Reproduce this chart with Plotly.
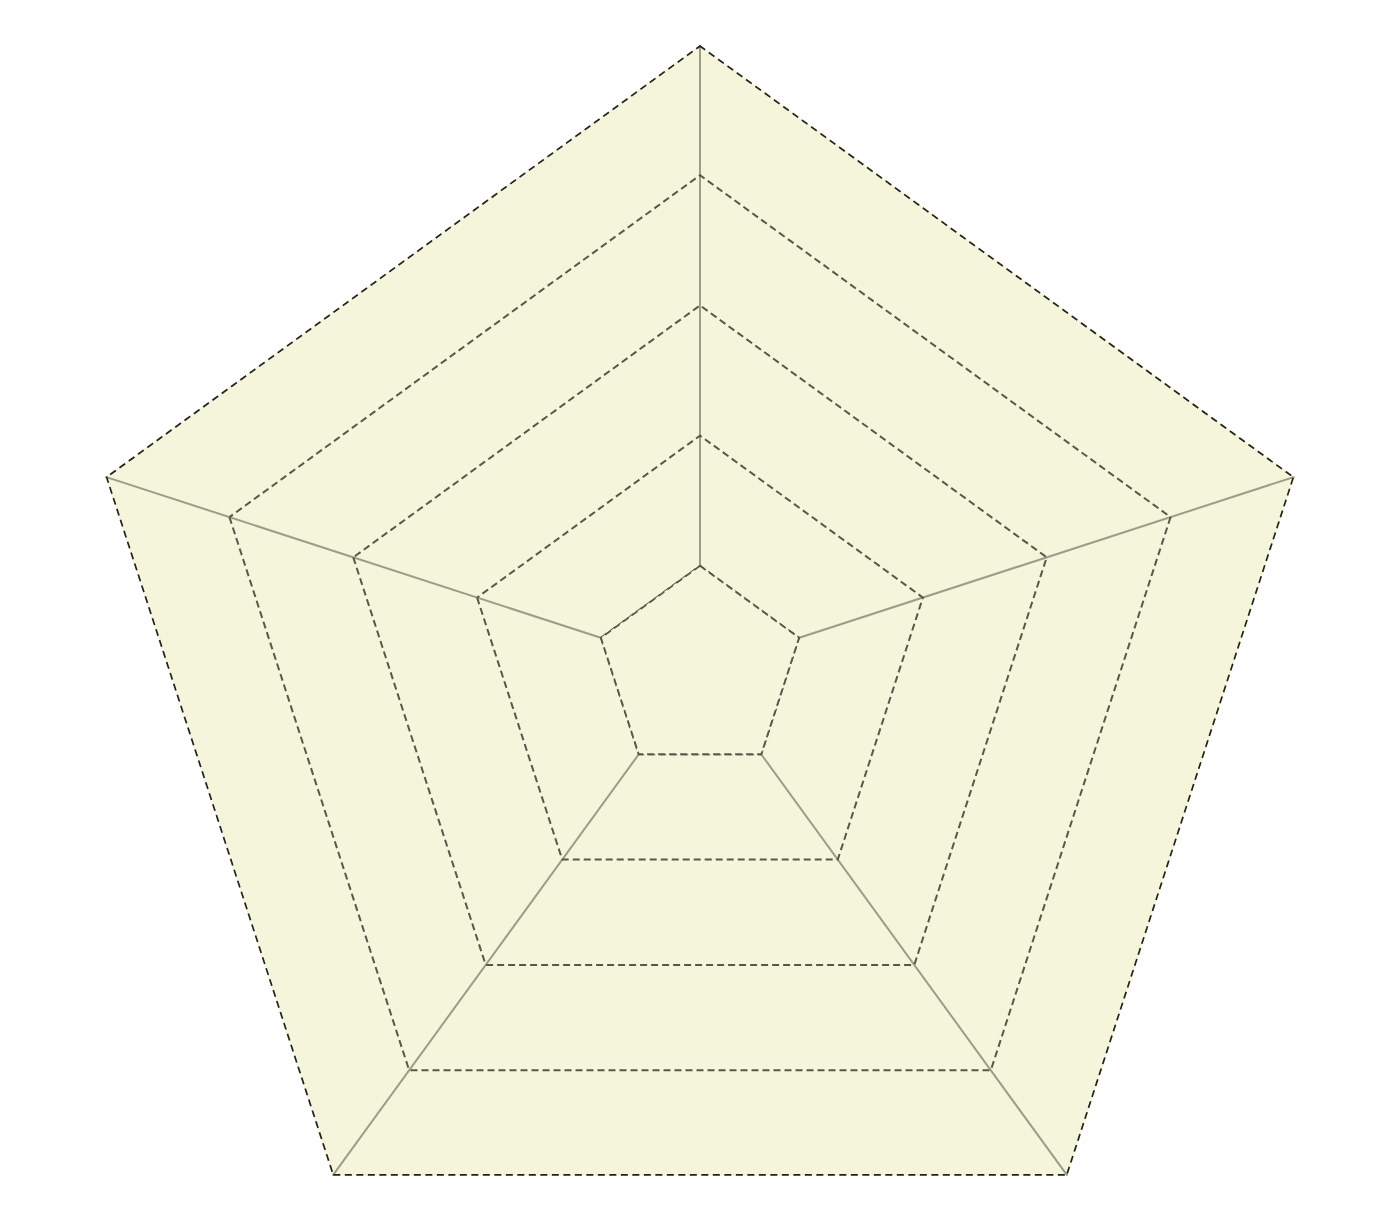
import plotly.graph_objects as go

categories = ["A", "B", "C", "D", "E"]
radial_ticks = [0, 1, 2, 3, 4]
inner_ring = [0, 0, 0, 0, 0]
outer_ring = [4, 4, 4, 4, 4]

BG = "#f5f5dc"
GRID = "#58584a"
DASH = "7px,4px"

fig = go.Figure()
# beige mask over the centre so the spokes start at the innermost ring
fig.add_trace(go.Scatterpolar(
    r=inner_ring + inner_ring[:1], theta=categories + categories[:1],
    mode="lines", fill="toself", fillcolor=BG,
    line=dict(width=1.8, color=GRID, dash=DASH),
    showlegend=False, hoverinfo="skip",
))
# dark dashed outer boundary (outer half is clipped by the polar frame)
fig.add_trace(go.Scatterpolar(
    r=outer_ring + outer_ring[:1], theta=categories + categories[:1],
    mode="lines", line=dict(width=3.4, color="#22221c", dash="7px,4.5px"),
    cliponaxis=False, showlegend=False, hoverinfo="skip",
))

R = 625
cx, cy = 700, 670
W = 2 * (cx - 8)
fig.update_layout(
    width=W, height=(cy - 8) + R,
    margin=dict(l=W / 2 - R, r=W / 2 - R, t=(cy - 8) - R, b=0),
    paper_bgcolor="white",
    showlegend=False,
    polar=dict(
        bgcolor=BG,
        hole=0,
        gridshape="linear",
        radialaxis=dict(
            range=[-0.8, 4], tickvals=radial_ticks, showticklabels=False,
            ticks="", showline=False, showgrid=True, layer="above traces",
            gridcolor=GRID, griddash=DASH, gridwidth=1.8,
        ),
        angularaxis=dict(
            type="category", categoryarray=categories,
            direction="clockwise", rotation=90, layer="below traces",
            showticklabels=False, ticks="", showline=False,
            showgrid=True, gridcolor="#9c9c88", gridwidth=1.6,
        ),
    ),
)

fig.write_html("out.html")
